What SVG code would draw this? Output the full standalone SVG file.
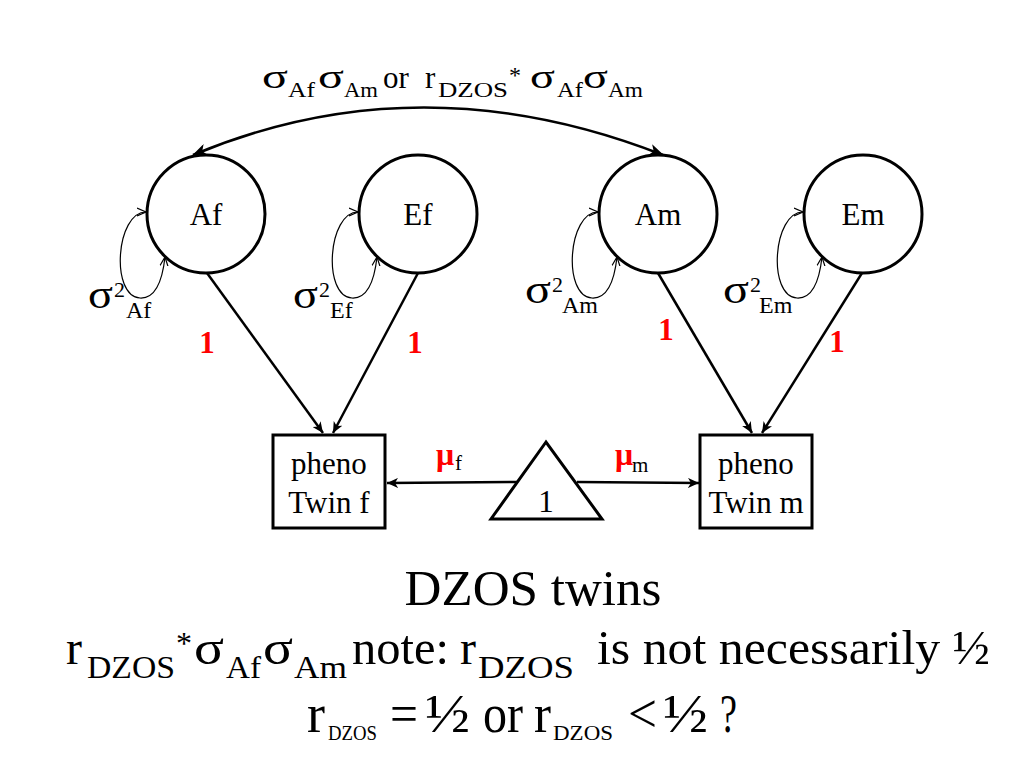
<svg xmlns="http://www.w3.org/2000/svg" width="1024" height="768" viewBox="0 0 1024 768">
<style>
text{font-family:"Liberation Serif","Times New Roman",serif;fill:#000}
.lbl{font-size:31px;text-anchor:middle}
.sub{font-size:22px}
.red{fill:#ff0000;font-weight:bold}
.node{fill:#fff;stroke:#000;stroke-width:3}
.edge{stroke:#000;stroke-width:2.5;fill:none}
.loop{stroke:#000;stroke-width:1.2;fill:none}
.big{font-size:48px}
.bsub{font-size:32px}
.l3{font-size:54px}
.l3s{font-size:22px}
</style>
<defs>
<marker id="ah" markerUnits="userSpaceOnUse" markerWidth="16" markerHeight="12" refX="14" refY="6" orient="auto-start-reverse">
<path d="M0,0 L15,6 L0,12 L4,6 z" fill="#000"/>
</marker>
<marker id="ahs" markerUnits="userSpaceOnUse" markerWidth="12" markerHeight="10" refX="11" refY="5" orient="auto-start-reverse">
<path d="M0,0 L11,5 L0,10 L3,5 z" fill="#000"/>
</marker>
<marker id="lh" markerUnits="userSpaceOnUse" markerWidth="10" markerHeight="10" refX="9" refY="5" orient="auto-start-reverse">
<path d="M0,1 L9,5 L0,9" fill="none" stroke="#000" stroke-width="1.2"/>
</marker>
</defs>
<rect width="1024" height="768" fill="#fff"/>

<g id="connectors">
<path class="edge" d="M193,155 Q420,60 663,155" stroke-width="3" marker-start="url(#ah)" marker-end="url(#ah)"/>
<path class="edge" d="M207,273 L323,433" marker-end="url(#ahs)"/>
<path class="edge" d="M418,273 L333,433" marker-end="url(#ahs)"/>
<path class="edge" d="M658,273 L752,433" marker-end="url(#ahs)"/>
<path class="edge" d="M862,273 L762,433" marker-end="url(#ahs)"/>
<path class="edge" d="M517,482 L387,483" stroke-width="2" marker-end="url(#ahs)"/>
<path class="edge" d="M577,482 L699,483" stroke-width="2" marker-end="url(#ahs)"/>
<path class="loop" d="M146,212 C116,212 110,296 140,298 C158,299 163,275 165,257" marker-start="url(#lh)" marker-end="url(#lh)"/>
<path class="loop" d="M358,212 C328,212 322,296 352,298 C370,299 375,275 377,257" marker-start="url(#lh)" marker-end="url(#lh)"/>
<path class="loop" d="M598,212 C568,212 562,296 592,298 C610,299 615,275 617,257" marker-start="url(#lh)" marker-end="url(#lh)"/>
<path class="loop" d="M803,212 C773,212 767,296 797,298 C815,299 820,275 822,257" marker-start="url(#lh)" marker-end="url(#lh)"/>
</g>

<g id="top-label">
<text x="262" y="88" font-size="34" textLength="26" lengthAdjust="spacingAndGlyphs">σ</text>
<text class="sub" x="288" y="97" textLength="27" lengthAdjust="spacingAndGlyphs">Af</text>
<text x="318" y="88" font-size="34" textLength="26" lengthAdjust="spacingAndGlyphs">σ</text>
<text class="sub" x="344" y="97" textLength="34" lengthAdjust="spacingAndGlyphs">Am</text>
<text x="383" y="88" font-size="31">or</text>
<text x="425" y="88" font-size="31">r</text>
<text class="sub" x="438" y="97" textLength="70" lengthAdjust="spacingAndGlyphs">DZOS</text>
<text x="509" y="83" font-size="24">*</text>
<text x="530" y="88" font-size="34" textLength="25" lengthAdjust="spacingAndGlyphs">σ</text>
<text class="sub" x="557" y="97" textLength="26" lengthAdjust="spacingAndGlyphs">Af</text>
<text x="583" y="88" font-size="34" textLength="25" lengthAdjust="spacingAndGlyphs">σ</text>
<text class="sub" x="608" y="97" textLength="35" lengthAdjust="spacingAndGlyphs">Am</text>
</g>

<g id="Af">
<circle class="node" cx="206" cy="214" r="59"/>
<text class="lbl" x="206" y="225">Af</text>
<text x="88" y="308" font-size="39" textLength="25" lengthAdjust="spacingAndGlyphs">σ</text>
<text x="114" y="297" font-size="22">2</text>
<text x="126" y="318" font-size="24">Af</text>
<text class="red" x="207" y="353" font-size="31" text-anchor="middle">1</text>
</g>
<g id="Ef">
<circle class="node" cx="418" cy="214" r="59"/>
<text class="lbl" x="418" y="225">Ef</text>
<text x="293" y="308" font-size="39" textLength="25" lengthAdjust="spacingAndGlyphs">σ</text>
<text x="319" y="297" font-size="22">2</text>
<text x="330" y="318" font-size="24">Ef</text>
<text class="red" x="415" y="353" font-size="31" text-anchor="middle">1</text>
</g>
<g id="Am">
<circle class="node" cx="658" cy="214" r="59"/>
<text class="lbl" x="658" y="225">Am</text>
<text x="525" y="303" font-size="39" textLength="26" lengthAdjust="spacingAndGlyphs">σ</text>
<text x="552" y="292" font-size="22">2</text>
<text x="562" y="313" font-size="24">Am</text>
<text class="red" x="666" y="340" font-size="31" text-anchor="middle">1</text>
</g>
<g id="Em">
<circle class="node" cx="863" cy="214" r="59"/>
<text class="lbl" x="863" y="225">Em</text>
<text x="723" y="303" font-size="39" textLength="26" lengthAdjust="spacingAndGlyphs">σ</text>
<text x="750" y="292" font-size="22">2</text>
<text x="759" y="313" font-size="24">Em</text>
<text class="red" x="837" y="352" font-size="31" text-anchor="middle">1</text>
</g>

<g id="pheno-f">
<rect class="node" x="273" y="435" width="112" height="93"/>
<text class="lbl" x="329" y="474" font-size="29">pheno</text>
<text class="lbl" x="329" y="513" font-size="29">Twin f</text>
</g>
<g id="pheno-m">
<rect class="node" x="700" y="435" width="112" height="93"/>
<text class="lbl" x="756" y="474" font-size="29">pheno</text>
<text class="lbl" x="756" y="513" font-size="29">Twin m</text>
</g>
<g id="one">
<path class="node" d="M546,442 L491,519 L602,519 z"/>
<text class="lbl" x="546" y="512" font-size="32">1</text>
</g>
<g id="mu-labels">
<text class="red" x="436" y="465" font-size="32">μ</text>
<text x="455" y="470" font-size="21">f</text>
<text class="red" x="615" y="465" font-size="32">μ</text>
<text x="632" y="472" font-size="21">m</text>
</g>

<g id="caption">
<text x="533" y="605" font-size="51" text-anchor="middle" textLength="257" lengthAdjust="spacingAndGlyphs">DZOS twins</text>
<text class="big" x="66" y="664">r</text>
<text class="bsub" x="87" y="678" textLength="88" lengthAdjust="spacingAndGlyphs">DZOS</text>
<text class="bsub" x="176" y="654">*</text>
<text class="big" x="194" y="664" textLength="30" lengthAdjust="spacingAndGlyphs">σ</text>
<text class="bsub" x="226" y="678" textLength="35" lengthAdjust="spacingAndGlyphs">Af</text>
<text class="big" x="263" y="664" textLength="30" lengthAdjust="spacingAndGlyphs">σ</text>
<text class="bsub" x="294" y="678" textLength="53" lengthAdjust="spacingAndGlyphs">Am</text>
<text class="big" x="352" y="664" textLength="97" lengthAdjust="spacingAndGlyphs">note:</text>
<text class="big" x="460" y="664">r</text>
<text class="bsub" x="478" y="678" textLength="96" lengthAdjust="spacingAndGlyphs">DZOS</text>
<text class="big" x="597" y="664" textLength="393" lengthAdjust="spacingAndGlyphs">is not necessarily ½</text>

<text class="l3" x="307" y="732" textLength="18" lengthAdjust="spacingAndGlyphs">r</text>
<text class="l3s" x="328" y="740" textLength="49" lengthAdjust="spacingAndGlyphs">DZOS</text>
<text class="l3" x="390" y="732" textLength="28" lengthAdjust="spacingAndGlyphs">=</text>
<text class="l3" x="425" y="732" textLength="45" lengthAdjust="spacingAndGlyphs">½</text>
<text class="l3" x="483" y="732" textLength="40" lengthAdjust="spacingAndGlyphs">or</text>
<text class="l3" x="534" y="732" textLength="17" lengthAdjust="spacingAndGlyphs">r</text>
<text class="l3s" x="553" y="740" textLength="60" lengthAdjust="spacingAndGlyphs">DZOS</text>
<text class="l3" x="628" y="732" textLength="29" lengthAdjust="spacingAndGlyphs">&lt;</text>
<text class="l3" x="663" y="732" textLength="45" lengthAdjust="spacingAndGlyphs">½</text>
<text class="l3" x="720" y="732" textLength="17" lengthAdjust="spacingAndGlyphs">?</text>
</g>
</svg>
